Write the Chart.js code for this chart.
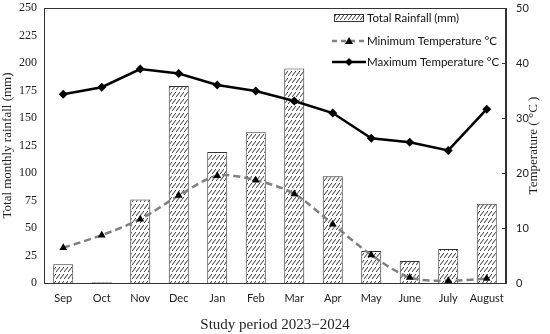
<!DOCTYPE html>
<html>
<head>
<meta charset="utf-8">
<script src="https://cdn.jsdelivr.net/npm/chart.js@4.4.1/dist/chart.umd.min.js"></script>
<style>
  html, body { margin: 0; padding: 0; background: #fff; }
  #wrap { width: 550px; height: 334px; position: relative; }
</style>
</head>
<body>
<div id="wrap"><canvas id="chart"></canvas></div>
<script>
const months = ['Sep', 'Oct', 'Nov', 'Dec', 'Jan', 'Feb', 'Mar', 'Apr', 'May', 'June', 'July', 'August'];
const rainfall = [17, 0.6, 76, 179, 119, 137, 195, 97, 29, 20, 31, 72];
const minTemp = [6.4, 8.7, 11.6, 15.9, 19.5, 18.7, 16.2, 10.7, 5.1, 1.0, 0.4, 0.8];
const maxTemp = [34.3, 35.6, 38.9, 38.1, 36.0, 34.9, 33.1, 30.9, 26.3, 25.6, 24.1, 31.6];
const rainTicks = [0, 25, 50, 75, 100, 125, 150, 175, 200, 225, 250];
const tempTicks = [0, 10, 20, 30, 40, 50];

const labels = {
    rain: 'Total Rainfall (mm)',
    min: 'Minimum Temperature \u00B0C',
    max: 'Maximum Temperature \u00B0C',
    yLeft: 'Total monthly rainfall (mm)',
    yRight: 'Temperature ( \u00B0C )',
    x: 'Study period 2023\u22122024',
};

const serif = '"Liberation Serif", "Times New Roman", serif';
const sans = 'Lato, "Open Sans", sans-serif';

// hatch pattern like the excel "wide upward diagonal"
function makeHatch() {
    const c = document.createElement('canvas');
    c.width = 4;
    c.height = 7;
    const g = c.getContext('2d');
    g.fillStyle = '#fff';
    g.fillRect(0, 0, 4, 7);
    g.strokeStyle = '#333';
    g.lineWidth = 1;
    g.beginPath();
    g.moveTo(0, 6);
    g.lineTo(4, 1);
    g.stroke();
    return g.createPattern(c, 'repeat');
}
const hatch = makeHatch();

const layoutPlugin = {
    id: 'extras',
    afterDraw(chart) {
        const { ctx, chartArea: a, scales } = chart;
        ctx.save();
        // frame
        ctx.strokeStyle = '#333';
        ctx.lineWidth = 1;
        ctx.strokeRect(a.left + 0.5, a.top + 0.5, a.right - a.left - 1, a.bottom - a.top);
        // inward ticks on the right axis
        const yr = scales.yr;
        tempTicks.forEach(v => {
            const y = Math.round(yr.getPixelForValue(v)) + 0.5;
            ctx.beginPath();
            ctx.moveTo(a.right - 4, y);
            ctx.lineTo(a.right, y);
            ctx.stroke();
        });
        // right title, reading upward
        ctx.fillStyle = '#222';
        ctx.font = '13px ' + serif;
        ctx.translate(534, (a.top + a.bottom) / 2);
        ctx.rotate(-Math.PI / 2);
        ctx.textAlign = 'center';
        ctx.textBaseline = 'middle';
        ctx.fillText(labels.yRight, 0, 0);
        ctx.restore();

        // legend
        ctx.save();
        ctx.font = '11.5px ' + sans;
        ctx.textBaseline = 'middle';
        const lx = 334, tx = 367;
        const rows = [18, 41, 62];
        // rainfall swatch
        ctx.fillStyle = hatch;
        ctx.fillRect(lx, rows[0] - 3, 29, 6);
        ctx.strokeStyle = '#333';
        ctx.lineWidth = 1;
        ctx.strokeRect(lx + 0.5, rows[0] - 3.5, 29, 7);
        // min temp swatch
        ctx.strokeStyle = '#808080';
        ctx.lineWidth = 2.5;
        ctx.setLineDash([5, 4]);
        ctx.beginPath();
        ctx.moveTo(lx - 2, rows[1]);
        ctx.lineTo(lx + 32, rows[1]);
        ctx.stroke();
        ctx.setLineDash([]);
        ctx.fillStyle = '#000';
        ctx.beginPath();
        ctx.moveTo(lx + 15, rows[1] - 4);
        ctx.lineTo(lx + 19, rows[1] + 3);
        ctx.lineTo(lx + 11, rows[1] + 3);
        ctx.closePath();
        ctx.fill();
        // max temp swatch
        ctx.strokeStyle = '#000';
        ctx.beginPath();
        ctx.moveTo(lx - 2, rows[2]);
        ctx.lineTo(lx + 32, rows[2]);
        ctx.stroke();
        ctx.beginPath();
        ctx.moveTo(lx + 15, rows[2] - 4);
        ctx.lineTo(lx + 19, rows[2]);
        ctx.lineTo(lx + 15, rows[2] + 4);
        ctx.lineTo(lx + 11, rows[2]);
        ctx.closePath();
        ctx.fill();
        ctx.fillStyle = '#111';
        ctx.fillText(labels.rain, tx, rows[0]);
        ctx.fillText(labels.min, tx, rows[1]);
        ctx.fillText(labels.max, tx, rows[2]);
        ctx.restore();
    }
};

// fixed axis sizes so the plot box sits where the original one does
const fitY = s => { s.width = 44; s.paddingTop = 0; s.paddingBottom = 0; };

new Chart(document.getElementById('chart'), {
    data: {
        labels: months,
        datasets: [
            {
                type: 'line',
                label: labels.max,
                data: maxTemp,
                yAxisID: 'yr',
                borderColor: '#000',
                backgroundColor: '#000',
                borderWidth: 2.5,
                pointStyle: 'rectRot',
                pointRadius: 4.5,
                pointBorderWidth: 0,
                tension: 0,
                order: 1,
            },
            {
                type: 'line',
                label: labels.min,
                data: minTemp,
                yAxisID: 'yr',
                borderColor: '#808080',
                backgroundColor: '#000',
                borderWidth: 2.5,
                borderDash: [7, 4],
                pointStyle: 'triangle',
                pointRadius: 4.5,
                pointBorderWidth: 0,
                tension: 0.3,
                order: 2,
            },
            {
                type: 'bar',
                label: labels.rain,
                data: rainfall,
                yAxisID: 'yl',
                backgroundColor: hatch,
                borderColor: '#333',
                borderWidth: 1,
                categoryPercentage: 1,
                barPercentage: 0.52,
                order: 3,
            },
        ]
    },
    options: {
        responsive: true,
        maintainAspectRatio: false,
        animation: false,
        layout: { padding: { top: 8 } },
        plugins: {
            legend: { display: false },
            tooltip: { enabled: false },
        },
        scales: {
            x: {
                grid: { display: false, drawTicks: false },
                border: { color: '#333' },
                ticks: { color: '#222', font: { family: sans, size: 11 }, padding: 9, maxRotation: 0 },
                title: { display: true, text: labels.x, color: '#222', font: { family: serif, size: 15 }, padding: { top: 6, bottom: 0 } },
                afterFit(s) { s.height = 51; },
            },
            yl: {
                position: 'left',
                min: 0,
                max: 250,
                afterBuildTicks(s) { s.ticks = rainTicks.map(v => ({ value: v })); },
                grid: { display: false, drawTicks: false },
                border: { color: '#333' },
                ticks: { color: '#222', font: { family: serif, size: 12 }, padding: 7 },
                title: { display: true, text: labels.yLeft, color: '#222', font: { family: serif, size: 13 }, padding: { top: 0, bottom: 0 } },
                afterFit: fitY,
            },
            yr: {
                position: 'right',
                min: 0,
                max: 50,
                afterBuildTicks(s) { s.ticks = tempTicks.map(v => ({ value: v })); },
                grid: { display: false, drawTicks: false },
                border: { color: '#333' },
                ticks: { color: '#222', font: { family: sans, size: 11 }, padding: 10 },
                afterFit: fitY,
            },
        }
    },
    plugins: [layoutPlugin]
});
</script>
</body>
</html>
